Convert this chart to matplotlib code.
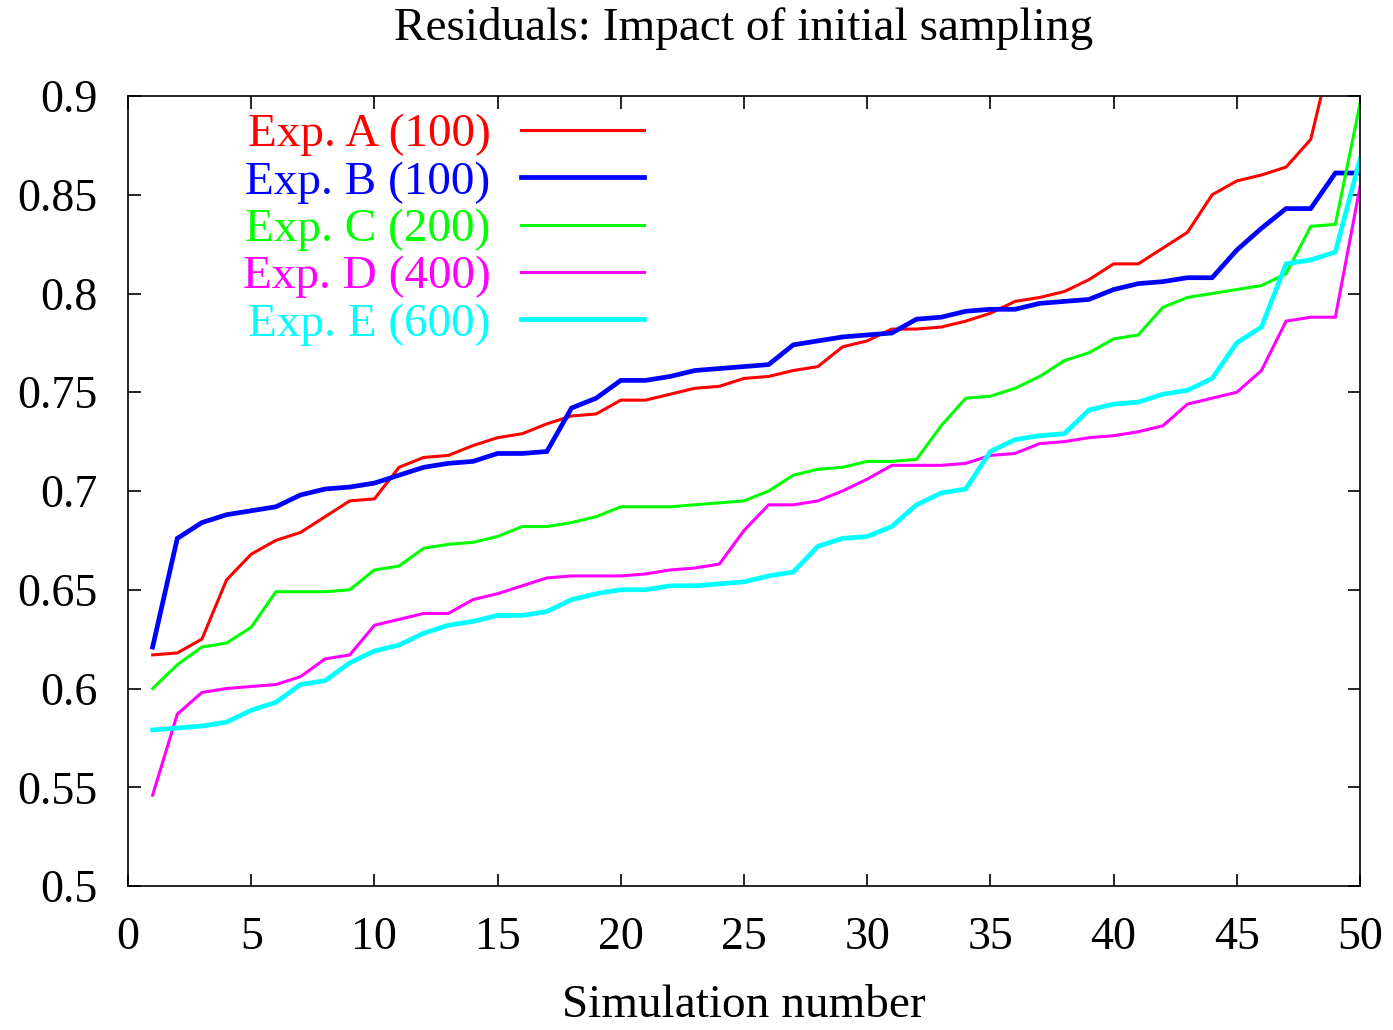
import matplotlib
matplotlib.use("Agg")
import matplotlib.pyplot as plt
import numpy as np

sim = list(range(1, 51))

exp_a = [0.617, 0.618, 0.625, 0.655, 0.668, 0.675, 0.679, 0.687, 0.695, 0.696,
         0.712, 0.717, 0.718, 0.723, 0.727, 0.729, 0.734, 0.738, 0.739, 0.746,
         0.746, 0.749, 0.752, 0.753, 0.757, 0.758, 0.761, 0.763, 0.773, 0.776,
         0.782, 0.782, 0.783, 0.786, 0.790, 0.796, 0.798, 0.801, 0.807, 0.815,
         0.815, 0.823, 0.831, 0.850, 0.857, 0.860, 0.864, 0.878, 0.930, 0.950]
exp_b = [0.621, 0.676, 0.684, 0.688, 0.690, 0.692, 0.698, 0.701, 0.702, 0.704,
         0.708, 0.712, 0.714, 0.715, 0.719, 0.719, 0.720, 0.742, 0.747, 0.756,
         0.756, 0.758, 0.761, 0.762, 0.763, 0.764, 0.774, 0.776, 0.778, 0.779,
         0.780, 0.787, 0.788, 0.791, 0.792, 0.792, 0.795, 0.796, 0.797, 0.802,
         0.805, 0.806, 0.808, 0.808, 0.822, 0.833, 0.843, 0.843, 0.861, 0.861]
exp_c = [0.600, 0.612, 0.621, 0.623, 0.631, 0.649, 0.649, 0.649, 0.650, 0.660,
         0.662, 0.671, 0.673, 0.674, 0.677, 0.682, 0.682, 0.684, 0.687, 0.692,
         0.692, 0.692, 0.693, 0.694, 0.695, 0.700, 0.708, 0.711, 0.712, 0.715,
         0.715, 0.716, 0.733, 0.747, 0.748, 0.752, 0.758, 0.766, 0.770, 0.777,
         0.779, 0.793, 0.798, 0.800, 0.802, 0.804, 0.810, 0.834, 0.835, 0.896]
exp_d = [0.546, 0.587, 0.598, 0.600, 0.601, 0.602, 0.606, 0.615, 0.617, 0.632,
         0.635, 0.638, 0.638, 0.645, 0.648, 0.652, 0.656, 0.657, 0.657, 0.657,
         0.658, 0.660, 0.661, 0.663, 0.680, 0.693, 0.693, 0.695, 0.700, 0.706,
         0.713, 0.713, 0.713, 0.714, 0.718, 0.719, 0.724, 0.725, 0.727, 0.728,
         0.730, 0.733, 0.744, 0.747, 0.750, 0.761, 0.786, 0.788, 0.788, 0.854]
exp_e = [0.579, 0.580, 0.581, 0.583, 0.589, 0.593, 0.602, 0.604, 0.613, 0.619,
         0.622, 0.628, 0.632, 0.634, 0.637, 0.637, 0.639, 0.645, 0.648, 0.650,
         0.650, 0.652, 0.652, 0.653, 0.654, 0.657, 0.659, 0.672, 0.676, 0.677,
         0.682, 0.693, 0.699, 0.701, 0.720, 0.726, 0.728, 0.729, 0.741, 0.744,
         0.745, 0.749, 0.751, 0.757, 0.775, 0.783, 0.815, 0.817, 0.821, 0.868]

labels = ["Exp. A (100)", "Exp. B (100)", "Exp. C (200)", "Exp. D (400)", "Exp. E (600)"]
colors = ["#ff0000", "#0000ff", "#00ff00", "#ff00ff", "#00ffff"]
widths = [2.2, 3.4, 2.2, 2.2, 3.4]
series = [exp_a, exp_b, exp_c, exp_d, exp_e]

xticks = list(range(0, 51, 5))
yticks = [0.5, 0.55, 0.6, 0.65, 0.7, 0.75, 0.8, 0.85, 0.9]
yticklabels = ["0.5", "0.55", "0.6", "0.65", "0.7", "0.75", "0.8", "0.85", "0.9"]

plt.rcParams['font.family'] = ['Liberation Serif', 'DejaVu Serif']

fig = plt.figure(figsize=(13.93, 10.30), dpi=100)
ax = fig.add_axes([128 / 1393, 1 - 886 / 1030, 1232 / 1393, 790 / 1030])

for ys, lab, c, w in zip(series, labels, colors, widths):
    ax.plot(sim, ys, color=c, lw=w, label=lab, solid_joinstyle='miter')

ax.set_xlim(0, 50)
ax.set_ylim(0.5, 0.9)
ax.set_xticks(xticks)
ax.set_xticklabels([str(t) for t in xticks])
ax.set_yticks(yticks)
ax.set_yticklabels(yticklabels)
ax.tick_params(axis='both', which='major', direction='in', length=9, width=1.2,
               top=True, right=True, labelsize=33, colors='black')
ax.tick_params(axis='x', pad=22)
ax.tick_params(axis='y', pad=22)
for sp in ax.spines.values():
    sp.set_linewidth(1.2)

ax.set_title("Residuals: Impact of initial sampling", fontsize=34, pad=40)
ax.set_xlabel("Simulation number", fontsize=34, labelpad=18)

leg = ax.legend(loc='upper left', bbox_to_anchor=(0.093, 0.978), frameon=False,
                markerfirst=False, fontsize=34, handlelength=2.62,
                handletextpad=0.64, labelspacing=0.09, borderpad=0,
                borderaxespad=0)
for txt, c in zip(leg.get_texts(), colors):
    txt.set_color(c)

fig.savefig("out.png", dpi=100)
